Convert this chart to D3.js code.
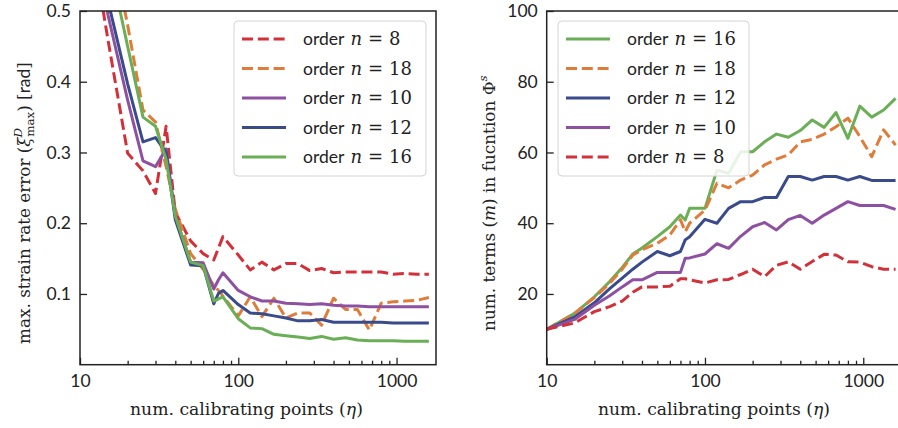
<!DOCTYPE html>
<html><head><meta charset="utf-8">
<script src="https://cdn.jsdelivr.net/npm/d3@7/dist/d3.min.js"></script>
<style>body{margin:0;background:#fff}svg{display:block}</style>
</head><body>
<svg id="c" width="898" height="428"></svg>
<script>
// ---- data ----
const eta = [10, 15, 20, 25, 30, 35, 40, 50, 60, 70, 75, 80, 100, 119, 141, 168, 200, 238, 283, 336, 400, 476, 566, 673, 800, 951, 1131, 1345, 1600];

// left panel: max strain rate error [rad]
const err8  = [0.70, 0.46, 0.299, 0.274, 0.242, 0.337, 0.215, 0.175, 0.157, 0.148, 0.165, 0.181, 0.155, 0.134, 0.145, 0.134, 0.143, 0.143, 0.133, 0.136, 0.130, 0.131, 0.131, 0.131, 0.131, 0.128, 0.129, 0.128, 0.128];
const err18 = [0.90, 0.62, 0.48, 0.36, 0.343, 0.28, 0.22, 0.157, 0.135, 0.112, 0.105, 0.097, 0.069, 0.096, 0.068, 0.094, 0.066, 0.073, 0.073, 0.056, 0.094, 0.078, 0.078, 0.049, 0.087, 0.089, 0.090, 0.091, 0.095];
const err10 = [0.80, 0.495, 0.374, 0.288, 0.280, 0.305, 0.21, 0.145, 0.144, 0.107, 0.12, 0.130, 0.105, 0.096, 0.090, 0.090, 0.087, 0.086, 0.085, 0.086, 0.084, 0.083, 0.083, 0.082, 0.082, 0.082, 0.082, 0.082, 0.082];
const err12 = [0.85, 0.515, 0.397, 0.315, 0.321, 0.30, 0.205, 0.141, 0.140, 0.086, 0.101, 0.105, 0.085, 0.073, 0.072, 0.069, 0.066, 0.062, 0.062, 0.064, 0.060, 0.060, 0.060, 0.060, 0.060, 0.059, 0.059, 0.059, 0.059];
const err16 = [1.00, 0.58, 0.45, 0.35, 0.337, 0.29, 0.21, 0.145, 0.14, 0.09, 0.093, 0.096, 0.065, 0.052, 0.051, 0.043, 0.041, 0.039, 0.037, 0.040, 0.036, 0.038, 0.035, 0.034, 0.034, 0.034, 0.033, 0.033, 0.033];

// right panel: number of terms m
const m16 = [10, 14.5, 19.2, 23.5, 27.5, 31.3, 33, 36.2, 39, 42.3, 40.9, 44.2, 44.2, 55, 54.1, 60.2, 60.2, 63, 65.2, 64.3, 66.2, 69.2, 67.1, 71.3, 64, 73.1, 70, 72, 75.3];
const m18 = [10, 14.5, 19, 23, 27, 31, 32.5, 34.3, 36.7, 41, 37.6, 40, 43.7, 51.3, 50, 52.2, 53.6, 56.5, 58.1, 59.3, 63, 63.7, 65.2, 67.3, 69.7, 64.5, 58.8, 66.4, 62.1];
const m12 = [10, 13.5, 17.5, 21.5, 24.5, 27, 29, 32, 30.8, 32, 35.3, 36.2, 41.1, 40, 44.2, 46.1, 46.1, 47.3, 47.3, 53.2, 53.2, 52.2, 53.2, 53.2, 52.2, 53.2, 52.1, 52.1, 52.1];
const m10 = [10, 12.8, 16.8, 19.5, 22, 24, 24, 26.1, 26.1, 26.1, 30.1, 30.2, 31.3, 34.2, 32.9, 36.3, 39, 40.2, 38.1, 41, 42.2, 40, 42.3, 44.2, 46.1, 45, 45, 45, 43.9];
const m8  = [10, 11.8, 15, 16.4, 18, 20.5, 22, 22, 22.2, 24.3, 24.3, 24, 23.1, 24, 24.1, 25.5, 27, 24.9, 28.1, 29.1, 27, 29.2, 31.2, 31, 29.1, 29, 27.7, 27, 27];

const xMajor = [10, 100, 1000];
const xMinor = [20,30,40,50,60,70,80,90,200,300,400,500,600,700,800,900];
const yTicksErr = [0.1, 0.2, 0.3, 0.4, 0.5];
const yTicksM = [20, 40, 60, 80, 100];

const COL = {8:"#d3313a", 18:"#df7c3a", 10:"#8e50a1", 12:"#394b8a", 16:"#6aae55"};
const DASHED = {8:true, 18:true};

const SANS = "Lato, 'DejaVu Sans', sans-serif";
const SERIF = "'DejaVu Serif', serif";

const svg = d3.select("#c");
svg.append("rect").attr("width",898).attr("height",428).attr("fill","#fff");

function panel(opt){
  const {px, py, pw, ph, yDomain, yTicks, yFmt, series, legend, id} = opt;
  const g = svg.append("g").attr("transform",`translate(${px},${py})`);
  const x = d3.scaleLog().domain([10, 1775]).range([0, pw]);
  const y = d3.scaleLinear().domain(yDomain).range([ph, 0]);

  svg.append("clipPath").attr("id",id).append("rect").attr("width",pw).attr("height",ph);

  const lines = g.append("g").attr("clip-path",`url(#${id})`);
  const line = d3.line().x((d,i)=>x(eta[i])).y(d=>y(d));
  series.forEach(s=>{
    lines.append("path").attr("d", line(s.v)).attr("fill","none")
      .attr("stroke", COL[s.n]).attr("stroke-width",3)
      .attr("stroke-linejoin","round")
      .attr("stroke-dasharray", DASHED[s.n] ? "11,4.8" : null);
  });

  const ax = g.append("g").attr("transform",`translate(0,${ph})`)
    .call(d3.axisBottom(x).tickValues(xMajor).tickFormat(d3.format("d")).tickSize(-7).tickPadding(10));
  const axm = g.append("g").attr("transform",`translate(0,${ph})`)
    .call(d3.axisBottom(x).tickValues(xMinor).tickFormat("").tickSize(-4));
  const ay = g.append("g")
    .call(d3.axisLeft(y).tickValues(yTicks).tickFormat(yFmt).tickSize(-7).tickPadding(9));
  [ax, axm, ay].forEach(a=>{
    a.select(".domain").remove();
    a.selectAll(".tick line").attr("stroke","#222").attr("stroke-width",1.3);
    a.selectAll("text").attr("font-family",SANS).attr("font-size",17.5).attr("fill","#222");
  });
  g.append("rect").attr("width",pw).attr("height",ph).attr("fill","none")
    .attr("stroke","#222").attr("stroke-width",1.5);

  const L = g.append("g").attr("transform",`translate(${legend.x - px},${legend.y - py})`);
  L.append("rect").attr("width",legend.w).attr("height",legend.h).attr("rx",4)
    .attr("fill","#fff").attr("fill-opacity",0.85).attr("stroke","#d4d4d4").attr("stroke-width",1);
  series.slice().sort((a,b)=>legend.order.indexOf(a.n)-legend.order.indexOf(b.n)).forEach((s,i)=>{
    const yy = 18 + i*29.5;
    L.append("line").attr("x1",8).attr("x2",52).attr("y1",yy).attr("y2",yy)
      .attr("stroke",COL[s.n]).attr("stroke-width",3)
      .attr("stroke-dasharray", DASHED[s.n] ? "11,4.8" : null);
    const t = L.append("text").attr("x",69).attr("y",yy+6).attr("fill","#222");
    t.append("tspan").attr("font-family",SANS).attr("font-size",17.5).text("order");
    t.append("tspan").attr("font-family",SERIF).attr("font-style","italic").attr("font-size",18).attr("dx",6).text("n");
    t.append("tspan").attr("font-family",SERIF).attr("font-size",18).attr("dx",6).text("=");
    t.append("tspan").attr("font-family",SERIF).attr("font-size",18).attr("dx",6).text(String(s.n));
  });
  return g;
}

panel({
  id:"clipL", px:80, py:11, pw:356, ph:353.7, yDomain:[0,0.5], yTicks:yTicksErr, yFmt:d3.format(".1f"),
  series:[{n:8,v:err8},{n:18,v:err18},{n:10,v:err10},{n:12,v:err12},{n:16,v:err16}],
  legend:{x:234, y:21, w:192, h:155, order:[8,18,10,12,16]}
});
panel({
  id:"clipR", px:546.7, py:11, pw:356, ph:353.7, yDomain:[0,100], yTicks:yTicksM, yFmt:d3.format("d"),
  series:[{n:16,v:m16},{n:18,v:m18},{n:12,v:m12},{n:10,v:m10},{n:8,v:m8}],
  legend:{x:558, y:21, w:191, h:155, order:[16,18,12,10,8]}
});

// label placed with baseline through (bx,by), centred, fitted to a target length
function label(bx, by, rot, len, build){
  const g = svg.append("g");
  const t = g.append("text").attr("font-family",SERIF).attr("font-size",17).attr("fill","#222");
  build(t);
  const bb = t.node().getBBox();
  const k = len / bb.width;
  g.attr("transform",`translate(${bx},${by}) rotate(${rot}) scale(${k}) translate(${-(bb.x+bb.width/2)},0)`);
}
function xlab(t){
  t.append("tspan").text("num. calibrating points (");
  t.append("tspan").attr("font-style","italic").text("η");
  t.append("tspan").text(")");
}
label(246.5, 415, 0, 233, xlab);
label(714, 415, 0, 232, xlab);

label(30, 203, -90, 282, t=>{
  t.append("tspan").text("max. strain rate error (");
  t.append("tspan").attr("font-style","italic").text("ξ");
  t.append("tspan").attr("font-style","italic").attr("font-size",12).attr("dy",-8).text("D");
  t.append("tspan").attr("font-size",12).attr("dx",-9).attr("dy",12).text("max");
  t.append("tspan").attr("dy",-4).text(") [");
  t.append("tspan").attr("font-family",SANS).attr("font-size",17.5).text("rad");
  t.append("tspan").text("]");
});
label(495, 203, -90, 256, t=>{
  t.append("tspan").text("num. terms (");
  t.append("tspan").attr("font-style","italic").text("m");
  t.append("tspan").text(") in fucntion Φ");
  t.append("tspan").attr("font-style","italic").attr("font-size",12).attr("dy",-8).text("s");
});
</script>
</body></html>
